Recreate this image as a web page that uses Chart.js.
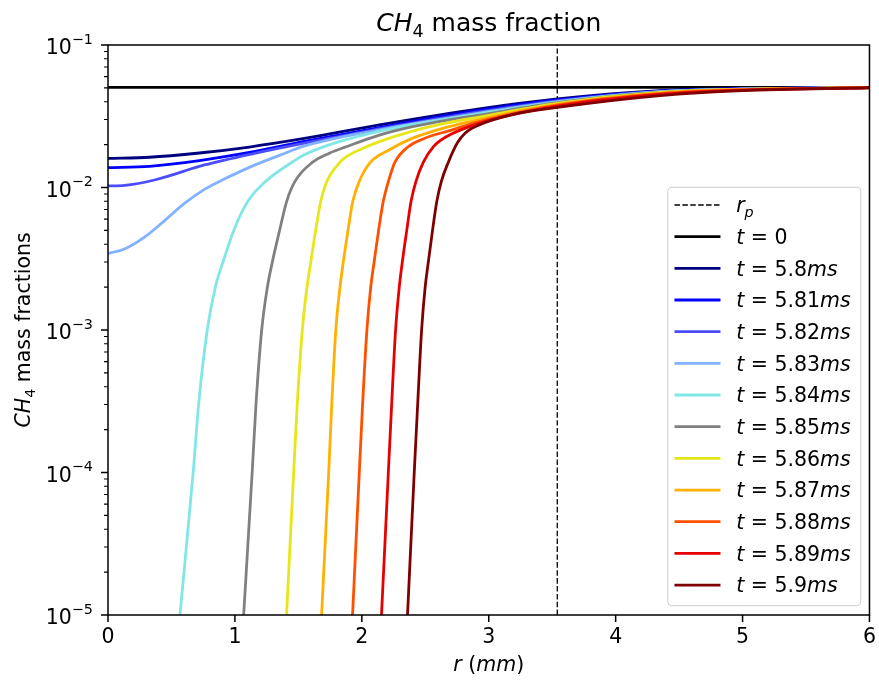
<!DOCTYPE html>
<html>
<head>
<meta charset="utf-8">
<title>CH4 mass fraction</title>
<script src="https://cdn.jsdelivr.net/npm/chart.js@4.4.0/dist/chart.umd.min.js"></script>
<style>
  html, body { margin: 0; padding: 0; background: #fff; }
  canvas { display: block; }
</style>
</head>
<body>
<canvas id="result" width="879" height="683"></canvas>
<script>
"use strict";

// times (ms) of the profiles
const times = ["5.8", "5.81", "5.82", "5.83", "5.84", "5.85", "5.86", "5.87", "5.88", "5.89", "5.9"];
const rp = 3.54;        // r_p (mm)
const yInit = 0.0505;   // t = 0 profile

// r (mm) and CH4 mass fraction, one pair per time
const r580 = [0, 0.327, 0.72, 1.114, 1.547, 2.138, 2.925, 3.54, 4.35, 5, 6];
const y580 = [0.01603, 0.0163, 0.01746, 0.01923, 0.02208, 0.02748, 0.0356, 0.0418, 0.0478, 0.0495, 0.0502];
const r581 = [0, 0.327, 0.72, 1.114, 1.547, 2.138, 2.925, 3.54, 4.35, 5, 6];
const y581 = [0.01377, 0.01409, 0.01545, 0.01762, 0.02104, 0.02636, 0.0347, 0.0412, 0.0475, 0.0493, 0.0502];
const r582 = [0, 0.13, 0.366, 0.76, 1.154, 1.547, 2.138, 2.925, 3.54, 4.35, 5, 6];
const y582 = [0.01026, 0.01035, 0.01129, 0.01439, 0.01738, 0.02051, 0.02576, 0.0339, 0.0405, 0.0472, 0.0491, 0.0502];
const r583 = [0, 0.13, 0.29, 0.45, 0.6, 0.76, 0.92, 1.15, 1.35, 1.55, 2.138, 2.925, 3.54, 4.35, 5, 6];
const y583 = [0.00344, 0.0037, 0.0045, 0.0059, 0.0077, 0.0097, 0.0115, 0.0143, 0.0168, 0.0196, 0.0254, 0.0333, 0.0401, 0.0471, 0.0491, 0.0502];
const r584 = [0.463, 0.567, 0.671, 0.714, 0.782, 0.846, 0.906, 0.991, 1.102, 1.240, 1.449, 1.547, 2.138, 2.925, 3.54, 4.35, 5, 6];
const y584 = [1e-6, 1e-5, 1e-4, 3e-4, 1e-3, 2e-3, 3e-3, 5e-3, 8e-3, 0.011, 0.015, 0.0170, 0.0248, 0.0328, 0.0398, 0.0469, 0.0490, 0.0502];
const r585 = [1.0, 1.069, 1.136, 1.166, 1.211, 1.256, 1.295, 1.352, 1.408, 1.472, 1.610, 1.744, 1.876, 2.138, 2.40, 2.663, 2.925, 3.54, 4.35, 5, 6];
const y585 = [1e-6, 1e-5, 1e-4, 3e-4, 1e-3, 2e-3, 3e-3, 5e-3, 8e-3, 0.011, 0.015, 0.0174, 0.0193, 0.0233, 0.0267, 0.0296, 0.0322, 0.0394, 0.0467, 0.0489, 0.0502];
const r586 = [1.35, 1.407, 1.463, 1.491, 1.531, 1.568, 1.598, 1.636, 1.677, 1.724, 1.827, 1.876, 2.006, 2.138, 2.40, 2.663, 2.925, 3.54, 4.35, 5, 6];
const y586 = [1e-6, 1e-5, 1e-4, 3e-4, 1e-3, 2e-3, 3e-3, 5e-3, 8e-3, 0.011, 0.015, 0.0164, 0.0188, 0.0210, 0.0249, 0.0283, 0.0312, 0.0389, 0.0464, 0.0488, 0.0502];
const r587 = [1.63, 1.683, 1.739, 1.763, 1.795, 1.828, 1.854, 1.891, 1.929, 1.979, 2.067, 2.217, 2.40, 2.663, 2.925, 3.54, 4.35, 5, 6];
const y587 = [1e-6, 1e-5, 1e-4, 3e-4, 1e-3, 2e-3, 3e-3, 5e-3, 8e-3, 0.011, 0.015, 0.0184, 0.0222, 0.0264, 0.0300, 0.0383, 0.0460, 0.0487, 0.0502];
const r588 = [1.875, 1.927, 1.980, 2.006, 2.040, 2.070, 2.097, 2.132, 2.169, 2.209, 2.260, 2.358, 2.492, 2.700, 2.925, 3.54, 4.35, 5, 6];
const y588 = [1e-6, 1e-5, 1e-4, 3e-4, 1e-3, 2e-3, 3e-3, 5e-3, 8e-3, 0.011, 0.015, 0.0191, 0.0221, 0.0252, 0.0290, 0.0378, 0.0456, 0.0485, 0.0502];
const r589 = [2.10, 2.155, 2.209, 2.235, 2.266, 2.295, 2.319, 2.354, 2.388, 2.426, 2.484, 2.563, 2.665, 2.925, 3.54, 4.35, 5, 6];
const y589 = [1e-6, 1e-5, 1e-4, 3e-4, 1e-3, 2e-3, 3e-3, 5e-3, 8e-3, 0.011, 0.015, 0.0193, 0.0227, 0.0282, 0.0372, 0.0450, 0.0482, 0.0502];
const r590 = [2.305, 2.360, 2.413, 2.440, 2.471, 2.499, 2.524, 2.557, 2.591, 2.626, 2.681, 2.752, 2.815, 2.925, 3.185, 3.54, 4.35, 5, 6];
const y590 = [1e-6, 1e-5, 1e-4, 3e-4, 1e-3, 2e-3, 3e-3, 5e-3, 8e-3, 0.011, 0.015, 0.0205, 0.0241, 0.0275, 0.0325, 0.0365, 0.0442, 0.0479, 0.0501];

const xTicks = [0, 1, 2, 3, 4, 5, 6];
const yDecades = [1e-5, 1e-4, 1e-3, 1e-2, 1e-1];

const radii = [r580, r581, r582, r583, r584, r585, r586, r587, r588, r589, r590];
const fracs = [y580, y581, y582, y583, y584, y585, y586, y587, y588, y589, y590];
const colors = ["#00007f", "#0000ff", "#4c4cff", "#80b2ff", "#80e6e6", "#808080",
  "#e6e619", "#ffb000", "#ff5000", "#e60000", "#800000"];

const FONT = '"DejaVu Sans"';
const FS = 20.5;
const LW = 2.8;
Chart.defaults.font.family = FONT;
Chart.defaults.color = "#000";

// log tick values: 1..9 x each decade
function logTickValues() {
  const out = [];
  for (let d = 0; d < yDecades.length - 1; d++) {
    for (let k = 1; k < 10; k++) out.push(Number((yDecades[d] * k).toPrecision(3)));
  }
  out.push(yDecades[yDecades.length - 1]);
  return out;
}
function isDecade(v) {
  const e = Math.log10(v);
  return Math.abs(e - Math.round(e)) < 1e-6;
}

// mixed italic / subscript / superscript text
function fontOf(p, size) {
  const s = p.sub || p.sup ? size * 0.7 : size;
  return (p.i ? "italic " : "") + s + "px " + FONT;
}
function richWidth(ctx, parts, size) {
  let w = 0;
  parts.forEach((p) => {
    ctx.font = fontOf(p, size);
    w += ctx.measureText(p.t).width;
  });
  return w;
}
function drawRich(ctx, parts, x, y, size) {
  parts.forEach((p) => {
    ctx.font = fontOf(p, size);
    let dy = 0;
    if (p.sub) dy = size * 0.22;
    if (p.sup) dy = -size * 0.5;
    ctx.fillText(p.t, x, y + dy);
    x += ctx.measureText(p.t).width;
  });
}

const titleParts = [{ t: "CH", i: 1 }, { t: "4", sub: 1 }, { t: " mass fraction" }];
const yTitleParts = [{ t: "CH", i: 1 }, { t: "4", sub: 1 }, { t: " mass fractions" }];
const xTitleParts = [{ t: "r", i: 1 }, { t: " (" }, { t: "mm", i: 1 }, { t: ")" }];

const decor = {
  id: "decor",
  afterDraw(chart) {
    const ctx = chart.ctx;
    const a = chart.chartArea;
    const xs = chart.scales.x;
    const ys = chart.scales.y;
    ctx.save();
    ctx.strokeStyle = "#000";
    ctx.fillStyle = "#000";

    // spines
    ctx.lineWidth = 1.5;
    ctx.strokeRect(a.left, a.top, a.right - a.left, a.bottom - a.top);

    // tick marks
    ctx.beginPath();
    xTicks.forEach((v) => {
      const px = xs.getPixelForValue(v);
      ctx.moveTo(px, a.bottom);
      ctx.lineTo(px, a.bottom + 7);
    });
    yDecades.forEach((v) => {
      const py = ys.getPixelForValue(v);
      ctx.moveTo(a.left, py);
      ctx.lineTo(a.left - 7, py);
    });
    ctx.stroke();
    ctx.lineWidth = 1.1;
    ctx.beginPath();
    logTickValues().filter((v) => !isDecade(v)).forEach((v) => {
      const py = ys.getPixelForValue(v);
      ctx.moveTo(a.left, py);
      ctx.lineTo(a.left - 4, py);
    });
    ctx.stroke();

    ctx.textAlign = "left";
    ctx.textBaseline = "alphabetic";

    // y tick labels 10^n
    yDecades.forEach((v) => {
      const py = ys.getPixelForValue(v);
      const e = Math.round(Math.log10(v));
      const parts = [{ t: "10" }, { t: (e < 0 ? "\u2212" : "") + Math.abs(e), sup: 1 }];
      const w = richWidth(ctx, parts, FS);
      drawRich(ctx, parts, a.left - 15 - w, py + 9, FS);
    });

    // titles
    const cx = (a.left + a.right) / 2;
    const tw = richWidth(ctx, titleParts, 25);
    drawRich(ctx, titleParts, cx - tw / 2, 31, 25);
    const xw = richWidth(ctx, xTitleParts, FS);
    drawRich(ctx, xTitleParts, cx - xw / 2, 671, FS);
    ctx.save();
    ctx.translate(30, (a.top + a.bottom) / 2);
    ctx.rotate(-Math.PI / 2);
    const yw = richWidth(ctx, yTitleParts, FS);
    drawRich(ctx, yTitleParts, -yw / 2, 0, FS);
    ctx.restore();

    // legend
    const bw = 193, bh = 418.4;
    const bx = a.right - 201.7, by = a.bottom - 9.3 - bh, rad = 4;
    ctx.beginPath();
    ctx.moveTo(bx + rad, by);
    ctx.arcTo(bx + bw, by, bx + bw, by + bh, rad);
    ctx.arcTo(bx + bw, by + bh, bx, by + bh, rad);
    ctx.arcTo(bx, by + bh, bx, by, rad);
    ctx.arcTo(bx, by, bx + bw, by, rad);
    ctx.closePath();
    ctx.fillStyle = "rgba(255,255,255,0.8)";
    ctx.fill();
    ctx.strokeStyle = "#cccccc";
    ctx.lineWidth = 1;
    ctx.stroke();

    const rows = [{ parts: [{ t: "r", i: 1 }, { t: "p", i: 1, sub: 1 }], color: "#000", dash: true },
      { parts: [{ t: "t", i: 1 }, { t: " = 0" }], color: "#000" }];
    times.forEach((t, i) => {
      rows.push({ parts: [{ t: "t", i: 1 }, { t: " = " + t }, { t: "ms", i: 1 }], color: colors[i] });
    });
    rows.forEach((row, k) => {
      const yc = by + 17.7 + k * 31.67;
      ctx.beginPath();
      ctx.strokeStyle = row.color;
      if (row.dash) {
        ctx.lineWidth = 1.3;
        ctx.setLineDash([5.5, 2.4]);
      } else {
        ctx.lineWidth = LW;
        ctx.setLineDash([]);
      }
      ctx.moveTo(bx + 6.7, yc);
      ctx.lineTo(bx + 52.7, yc);
      ctx.stroke();
      ctx.setLineDash([]);
      ctx.fillStyle = "#000";
      drawRich(ctx, row.parts, bx + 68.4, yc + FS * 0.36, FS);
    });
    ctx.restore();
  },
};

const datasets = [
  {
    label: "rp",
    data: [{ x: rp, y: yDecades[0] }, { x: rp, y: yDecades[yDecades.length - 1] }],
    borderColor: "#000",
    borderWidth: 1.3,
    borderDash: [5.5, 2.4],
    order: 20,
  },
  {
    label: "t = 0",
    data: [{ x: xTicks[0], y: yInit }, { x: xTicks[xTicks.length - 1], y: yInit }],
    borderColor: "#000",
    borderWidth: LW,
    order: 19,
  },
];
times.forEach((t, i) => {
  datasets.push({
    label: "t = " + t + "ms",
    data: radii[i].map((r, k) => ({ x: r, y: fracs[i][k] })),
    borderColor: colors[i],
    borderWidth: LW,
    order: times.length - i,
  });
});

new Chart("result", {
  type: "line",
  data: { datasets: datasets },
  options: {
    responsive: false,
    animation: false,
    devicePixelRatio: 1,
    layout: { padding: { left: 0, right: 9, top: 45, bottom: 0 } },
    datasets: { line: { clip: 0 } },
    elements: {
      point: { radius: 0 },
      line: { cubicInterpolationMode: "monotone", borderJoinStyle: "round", fill: false },
    },
    plugins: {
      legend: { display: false },
      title: { display: false },
      tooltip: { enabled: false },
    },
    scales: {
      x: {
        type: "linear",
        min: 0,
        max: 6,
        afterBuildTicks: (s) => { s.ticks = xTicks.map((v) => ({ value: v })); },
        afterFit: (s) => { s.height = 68; },
        ticks: { font: { size: FS }, padding: 3, maxRotation: 0, autoSkip: false, color: "#000" },
        grid: { drawOnChartArea: false, drawTicks: true, tickLength: 7, color: "rgba(0,0,0,0)" },
        border: { display: false },
      },
      y: {
        type: "logarithmic",
        min: yDecades[0],
        max: yDecades[yDecades.length - 1],
        afterBuildTicks: (s) => { s.ticks = logTickValues().map((v) => ({ value: v })); },
        afterFit: (s) => { s.width = 108; },
        ticks: { display: false },
        grid: { drawOnChartArea: false, drawTicks: true, tickLength: 7, color: "rgba(0,0,0,0)" },
        border: { display: false },
      },
    },
  },
  plugins: [decor],
});
</script>
</body>
</html>
